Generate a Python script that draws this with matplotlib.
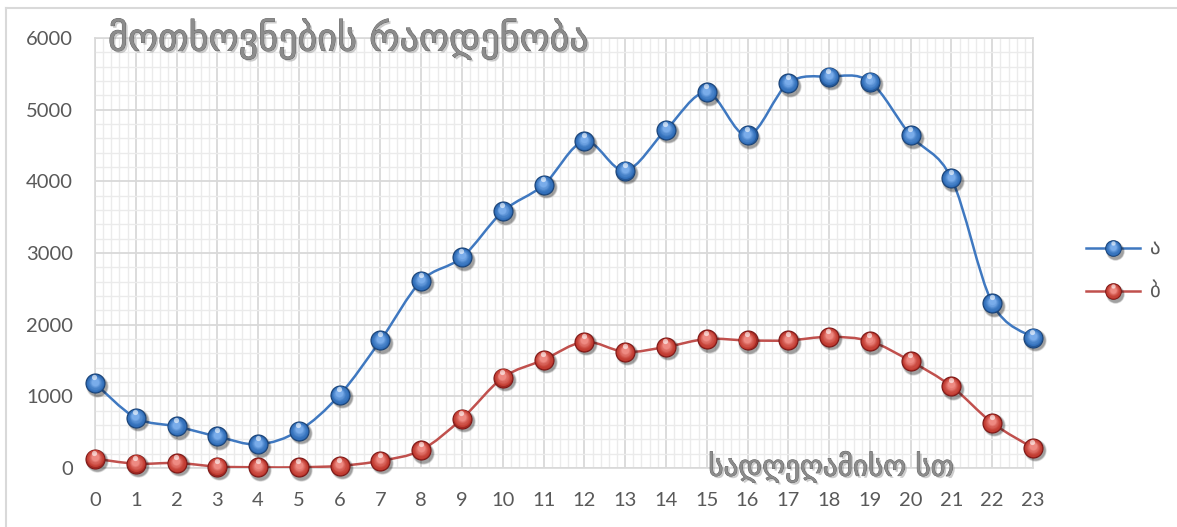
import numpy as np
import matplotlib
matplotlib.use("Agg")
import matplotlib.pyplot as plt
from matplotlib.path import Path
from matplotlib.patches import PathPatch
from matplotlib.lines import Line2D
from matplotlib.transforms import offset_copy
from matplotlib.ticker import MultipleLocator
import matplotlib.patheffects as pe

# ---- data -------------------------------------------------------------
hours = list(range(24))
series_a = [1180, 700, 580, 440, 330, 520, 1020, 1780, 2610, 2940, 3580, 3950,
            4560, 4150, 4720, 5240, 4640, 5370, 5460, 5390, 4640, 4040, 2300, 1820]
series_b = [130, 60, 70, 20, 10, 10, 30, 100, 250, 690, 1260, 1510,
            1760, 1620, 1690, 1800, 1780, 1780, 1830, 1770, 1490, 1140, 630, 280]
series_names = ["ა", "ბ"]
y_ticks = [0, 1000, 2000, 3000, 4000, 5000, 6000]
title_text = "მოთხოვნების რაოდენობა"
xlabel_text = "სადღეღამისო სთ"

# ---- styling ----------------------------------------------------------
W, H = 1177, 527
TXT = "#595959"
line_colors = ["#3f78c0", "#c0504d"]
sphere_shades = [
    ("#183f70", "#2f6db8", "#79acea"),   # blue: rim, body, glow
    ("#771514", "#c0392f", "#ee8a82"),   # red
]

fig = plt.figure(figsize=(W / 100, H / 100), dpi=100)
fig.patch.set_facecolor("white")

# chart-area frame
fig.add_artist(Line2D([6 / W, 6 / W], [0, 1 - 8 / H], transform=fig.transFigure,
                      color="#d9d9d9", lw=1.5))
fig.add_artist(Line2D([6 / W, 1], [1 - 8 / H, 1 - 8 / H], transform=fig.transFigure,
                      color="#d9d9d9", lw=1.5))

left, right, top, bottom = 95, 1033, 38, 468
ax = fig.add_axes([left / W, 1 - bottom / H, (right - left) / W, (bottom - top) / H])
ax.set_xlim(0, 23)
ax.set_ylim(0, 6000)
ax.xaxis.set_major_locator(MultipleLocator(1))
ax.xaxis.set_minor_locator(MultipleLocator(0.2))
ax.set_yticks(y_ticks)
ax.yaxis.set_minor_locator(MultipleLocator(200))
ax.set_axisbelow(True)
ax.grid(which="minor", color="#ebebeb", lw=1.0)
ax.grid(which="major", color="#d9d9d9", lw=1.3)
for s in ax.spines.values():
    s.set_color("#d9d9d9")
    s.set_linewidth(1.2)
ax.tick_params(which="both", length=0)
ax.tick_params(axis="x", pad=17, labelsize=14.5, labelcolor=TXT)
ax.tick_params(axis="y", pad=16, labelsize=14.5, labelcolor=TXT)
for lab in ax.get_xticklabels() + ax.get_yticklabels():
    lab.set_fontfamily("Lato")


def smooth_path(xs, ys):
    """Cubic Bezier curve through the points (Catmull-Rom style smoothing)."""
    pts = np.column_stack([xs, ys]).astype(float)
    n = len(pts)
    verts, codes = [pts[0]], [Path.MOVETO]
    for i in range(n - 1):
        p0 = pts[i - 1] if i > 0 else pts[i]
        p1, p2 = pts[i], pts[i + 1]
        p3 = pts[i + 2] if i + 2 < n else pts[i + 1]
        verts += [p1 + (p2 - p0) / 6, p2 - (p3 - p1) / 6, p2]
        codes += [Path.CURVE4] * 3
    return Path(verts, codes)


def mix(c1, c2, t):
    a = np.array(matplotlib.colors.to_rgb(c1))
    b = np.array(matplotlib.colors.to_rgb(c2))
    return tuple(a + (b - a) * t)


def dots(target, xs, ys, tf, z, **kw):
    ln = Line2D(xs, ys, ls="none", marker="o", mec="none", transform=tf,
                zorder=z, clip_on=False, **kw)
    if hasattr(target, "add_line"):
        target.add_line(ln)
    else:
        target.add_artist(ln)


def spheres(target, xs, ys, base_tf, shades, size, z):
    """Shaded balls drawn as stacked circle markers."""
    rim, body, glow = shades
    # soft drop shadow
    for k, a in enumerate([0.10, 0.14, 0.18]):
        tf = offset_copy(base_tf, fig=fig, x=1.4, y=-1.8, units="points")
        dots(target, xs, ys, tf, z, ms=size * (1.12 - 0.06 * k), mfc="black", alpha=a)
    # rim and body gradient
    dots(target, xs, ys, base_tf, z + 0.1, ms=size, mfc=rim)
    steps = 9
    for k in range(steps):
        t = k / (steps - 1)
        ms = size * (0.92 - 0.55 * t)
        dy = size * 0.09 * t
        col = mix(rim, body, 0.55) if k == 0 else mix(body, glow, t ** 1.6)
        tf = offset_copy(base_tf, fig=fig, x=-size * 0.02 * t, y=dy, units="points")
        dots(target, xs, ys, tf, z + 0.2 + 0.01 * k, ms=ms, mfc=col)
    # specular highlight near the top
    tf = offset_copy(base_tf, fig=fig, x=-size * 0.03, y=size * 0.30, units="points")
    dots(target, xs, ys, tf, z + 0.4, ms=size * 0.26, mfc="white", alpha=0.6)


for i, vals in enumerate([series_a, series_b]):
    ax.add_patch(PathPatch(smooth_path(hours, vals), fill=False,
                           ec=line_colors[i], lw=1.8, zorder=3 + i * 2))
    spheres(ax, hours, vals, ax.transData, sphere_shades[i], 14.5, 3.5 + i * 2)

# title and axis caption, drawn over the plot area
fx = [pe.SimplePatchShadow(offset=(1.5, -1.5), shadow_rgbFace="#9a9a9a", alpha=0.5),
      pe.withStroke(linewidth=0.6, foreground="#5e5e5e")]
fig.text(108 / W, 1 - 39 / H, title_text, ha="left", va="center", fontsize=27.5,
         color="#8c8c8c", family="DejaVu Sans", path_effects=fx, zorder=10)
fig.text(831 / W, 1 - 467 / H, xlabel_text, ha="center", va="center", fontsize=21,
         color="#8c8c8c", family="DejaVu Sans", path_effects=fx, zorder=10)

# legend on the right
for i, name in enumerate(series_names):
    yy = 1 - (248 + 43 * i) / H
    fig.add_artist(Line2D([1086 / W, 1140 / W], [yy, yy], transform=fig.transFigure,
                          color=line_colors[i], lw=1.8))
    spheres(fig, [1113 / W], [yy], fig.transFigure, sphere_shades[i], 12, 20)
    fig.text(1150 / W, yy, name, ha="left", va="center", fontsize=15,
             color=TXT, family="DejaVu Sans")

fig.savefig("out.png", dpi=100, facecolor="white")
